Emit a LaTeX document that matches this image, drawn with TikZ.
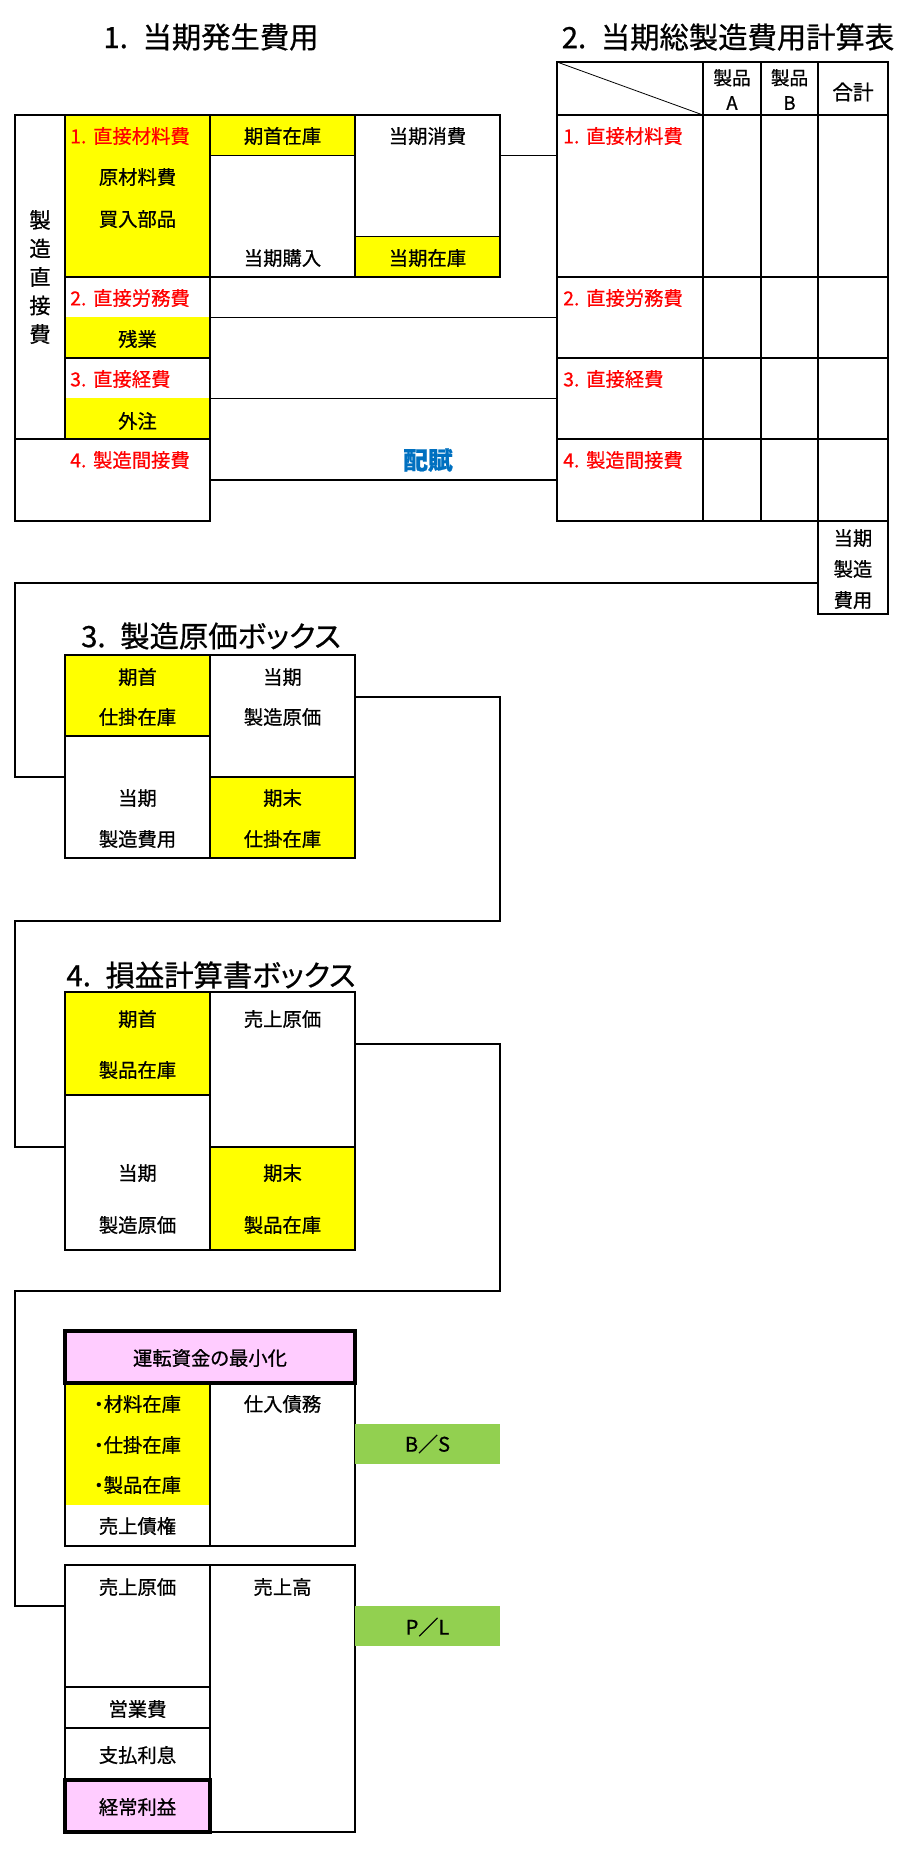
\documentclass[tikz,border=0pt]{standalone}
\usepackage{fontspec}
\setmainfont{Noto Sans CJK JP}[RawFeature=+palt, FakeBold=0.7]
\definecolor{cyel}{HTML}{FFFF00}
\definecolor{cred}{HTML}{FF0000}
\definecolor{cblue}{HTML}{0070C0}
\definecolor{cgreen}{HTML}{92D050}
\definecolor{cpink}{HTML}{FFCCFF}
\newcommand\mkcell[6][]{\node[cellb,#1,minimum width={(#5-#3)*0.75pt},minimum height={(#6-#4)*0.75pt}] (#2) at ({(#3+#5)/2},{(#4+#6)/2}) {};}
\tikzset{
  cellb/.style={rectangle, draw=black, line width=1.3pt, inner sep=0pt, outer sep=0pt},
  fillonly/.style={draw=none},
  thickb/.style={line width=3.2pt},
  thinl/.style={draw=black, line width=0.6pt},
  thickl/.style={draw=black, line width=1.3pt},
  conn/.style={draw=black, line width=1pt},
  lbl/.style={inner sep=0pt, font=\fontsize{14.5}{17}\selectfont},
  lblr/.style={lbl, text=cred, anchor=west},
  lblg/.style={lbl, font=\fontsize{15}{17}\selectfont},
  ttl/.style={inner sep=0pt, font=\fontsize{22}{26}\selectfont},
}
\begin{document}
\begin{tikzpicture}[x=0.75pt,y=-0.75pt]
\useasboundingbox (0,0) rectangle (917,1863);
% ---------- titles
\node[ttl] (ti1) at (211,37) {1.\hspace{0.5em}当期発生費用};
\node[ttl] (ti2) at (728,37) {2.\hspace{0.5em}当期総製造費用計算表};
\node[ttl] (ti3) at (211,636) {3.\hspace{0.5em}製造原価ボックス};
\node[ttl] (ti4) at (211,975) {4.\hspace{0.5em}損益計算書ボックス};
% ---------- section 1
\mkcell{zo}{15}{115}{65}{439}
\mkcell[fill=cyel]{m1}{65}{115}{210}{277}
\mkcell[fillonly,fill=cyel]{zanf}{65}{317}{210}{358}
\mkcell{lab2}{65}{277}{210}{358}
\mkcell[fillonly,fill=cyel]{gaif}{65}{398}{210}{439}
\mkcell{lab3}{65}{358}{210}{439}
\mkcell[fillonly]{f4}{15}{439}{210}{521}
\draw[thickl] (f4.north west) -- (f4.south west) -- (f4.south east) -- (f4.north east);
\draw[thinl] (f4.north west) -- (f4.north east);
\mkcell[fillonly,fill=cyel]{kish}{210}{115}{355}{155}
\mkcell{c2}{210}{115}{355}{277}
\draw[thinl] (kish.south west) -- (kish.south east);
\mkcell[fillonly,fill=cyel]{zaik}{355}{236}{500}{277}
\mkcell{c3}{355}{115}{500}{277}
\draw[thinl] (zaik.north west) -- (zaik.north east);
% texts
\node[lblr] (l1) at (70,136) {1.\hspace{0.35em}直接材料費};
\node[lbl] (l1a) at (137.5,177) {原材料費};
\node[lbl] (l1b) at (137.5,219) {買入部品};
\node[lbl] (l2a) at (282.5,136) {期首在庫};
\node[lbl] (l2b) at (282.5,258) {当期購入};
\node[lbl] (l3a) at (427.5,136) {当期消費};
\node[lbl] (l3b) at (427.5,258) {当期在庫};
\node[lblr] (l2) at (70,298) {2.\hspace{0.35em}直接労務費};
\node[lbl] (lz) at (137.5,339) {残業};
\node[lblr] (l3) at (70,379) {3.\hspace{0.35em}直接経費};
\node[lbl] (lg) at (137.5,421) {外注};
\node[lblr] (l4) at (70,460) {4.\hspace{0.35em}製造間接費};
\node[inner sep=0pt, align=center, font=\fontsize{16}{21.4}\selectfont] (lv) at (40,277) {製\\造\\直\\接\\費};
\node[inner sep=0pt, text=cblue, font=\fontsize{18.5}{21}\selectfont\bfseries] (hf) at (428,460) {配賦};
% ---------- section 2 table
\mkcell{h0}{557}{62}{703}{115}
\draw[thinl] (h0.north west) -- (h0.south east);
\mkcell{ha}{703}{62}{761}{115}
\mkcell{hb}{761}{62}{818}{115}
\mkcell{hc}{818}{62}{888}{115}
\mkcell{t1}{557}{115}{703}{277}
\mkcell{t1a}{703}{115}{761}{277}
\mkcell{t1b}{761}{115}{818}{277}
\mkcell{t1c}{818}{115}{888}{277}
\mkcell{t2}{557}{277}{703}{358}
\mkcell{t2a}{703}{277}{761}{358}
\mkcell{t2b}{761}{277}{818}{358}
\mkcell{t2c}{818}{277}{888}{358}
\mkcell{t3}{557}{358}{703}{439}
\mkcell{t3a}{703}{358}{761}{439}
\mkcell{t3b}{761}{358}{818}{439}
\mkcell{t3c}{818}{358}{888}{439}
\mkcell{t4}{557}{439}{703}{521}
\mkcell{t4a}{703}{439}{761}{521}
\mkcell{t4b}{761}{439}{818}{521}
\mkcell{t4c}{818}{439}{888}{521}
\mkcell{tot}{818}{521}{888}{614}
\node[lbl, align=center, font=\fontsize{14}{18.75}\selectfont] (pa) at (732,89.5) {製品\\A};
\node[lbl, align=center, font=\fontsize{14}{18.75}\selectfont] (pb) at (789.5,89.5) {製品\\B};
\node[lbl, font=\fontsize{15.5}{18}\selectfont] (gk) at (853,92) {合計};
\node[lblr] (r1) at (563,136) {1.\hspace{0.35em}直接材料費};
\node[lblr] (r2) at (563,298) {2.\hspace{0.35em}直接労務費};
\node[lblr] (r3) at (563,379) {3.\hspace{0.35em}直接経費};
\node[lblr] (r4) at (563,460) {4.\hspace{0.35em}製造間接費};
\node[lbl, align=center, font=\fontsize{14.5}{23.25}\selectfont] (tt) at (853,569) {当期\\製造\\費用};
% connectors section 1 -> table
\coordinate (k1) at (500,155);
\draw[thinl] (k1) -- (k1 -| t1.west);
\draw[thickl] (lab2.east) -- (t2.west);
\draw[thickl] (lab3.east) -- (t3.west);
\draw[thickl] (f4.east) -- (t4.west);
% ---------- section 3
\mkcell[fill=cyel]{s3a}{65}{655}{210}{736}
\mkcell{s3b}{65}{736}{210}{858}
\mkcell{s3c}{210}{655}{355}{777}
\mkcell[fill=cyel]{s3d}{210}{777}{355}{858}
\node[lbl] (s3a1) at (137.5,677) {期首};
\node[lbl] (s3a2) at (137.5,717) {仕掛在庫};
\node[lbl] (s3c1) at (282.5,677) {当期};
\node[lbl] (s3c2) at (282.5,717) {製造原価};
\node[lbl] (s3b1) at (137.5,798) {当期};
\node[lbl] (s3b2) at (137.5,839) {製造費用};
\node[lbl] (s3d1) at (282.5,798) {期末};
\node[lbl] (s3d2) at (282.5,839) {仕掛在庫};
\coordinate (q1) at (818,583);
\coordinate (q2) at (65,777);
\draw[conn] (q1) -- (15,583) -- (15,777) -- (q2);
% ---------- section 4
\mkcell[fill=cyel]{s4a}{65}{992}{210}{1095}
\mkcell{s4b}{65}{1095}{210}{1250}
\mkcell{s4c}{210}{992}{355}{1147}
\mkcell[fill=cyel]{s4d}{210}{1147}{355}{1250}
\node[lbl] (s4a1) at (137.5,1019) {期首};
\node[lbl] (s4a2) at (137.5,1070) {製品在庫};
\node[lbl] (s4c1) at (282.5,1019) {売上原価};
\node[lbl] (s4b1) at (137.5,1173) {当期};
\node[lbl] (s4b2) at (137.5,1225) {製造原価};
\node[lbl] (s4d1) at (282.5,1173) {期末};
\node[lbl] (s4d2) at (282.5,1225) {製品在庫};
\coordinate (q3) at (355,697);
\coordinate (q4) at (65,1147);
\draw[conn] (q3) -- (500,697) -- (500,921) -- (15,921) -- (15,1147) -- (q4);
% ---------- section 5
\mkcell[fillonly,fill=cyel]{b1f}{65}{1383}{210}{1505}
\mkcell{b1}{65}{1383}{210}{1546}
\mkcell{b3}{210}{1383}{355}{1546}
\mkcell[fill=cpink,thickb]{wc}{65}{1331}{355}{1383}
\mkcell[fillonly,fill=cgreen]{bs}{355}{1424}{500}{1464}
\node[lbl] (wct) at (210,1358) {運転資金の最小化};
\node[lbl] (b11) at (137.5,1404) {・材料在庫};
\node[lbl] (b12) at (137.5,1445) {・仕掛在庫};
\node[lbl] (b13) at (137.5,1485) {・製品在庫};
\node[lbl] (b14) at (137.5,1526) {売上債権};
\node[lbl] (b31) at (282.5,1404) {仕入債務};
\node[lblg] (bst) at (427.5,1444) {B／S};
\mkcell{p1}{65}{1565}{210}{1687}
\mkcell{p2}{65}{1687}{210}{1728}
\mkcell{p3}{65}{1728}{210}{1780}
\mkcell{p5}{210}{1565}{355}{1832}
\mkcell[fill=cpink,thickb]{p4}{65}{1780}{210}{1832}
\mkcell[fillonly,fill=cgreen]{pl}{355}{1606}{500}{1646}
\node[lbl] (p1t) at (137.5,1587) {売上原価};
\node[lbl] (p2t) at (137.5,1709) {営業費};
\node[lbl] (p3t) at (137.5,1755) {支払利息};
\node[lbl] (p4t) at (137.5,1807) {経常利益};
\node[lbl] (p5t) at (282.5,1587) {売上高};
\node[lblg] (plt) at (427.5,1627) {P／L};
\coordinate (q5) at (355,1044);
\coordinate (q6) at (65,1606);
\draw[conn] (q5) -- (500,1044) -- (500,1291) -- (15,1291) -- (15,1606) -- (q6);
\end{tikzpicture}
\end{document}
